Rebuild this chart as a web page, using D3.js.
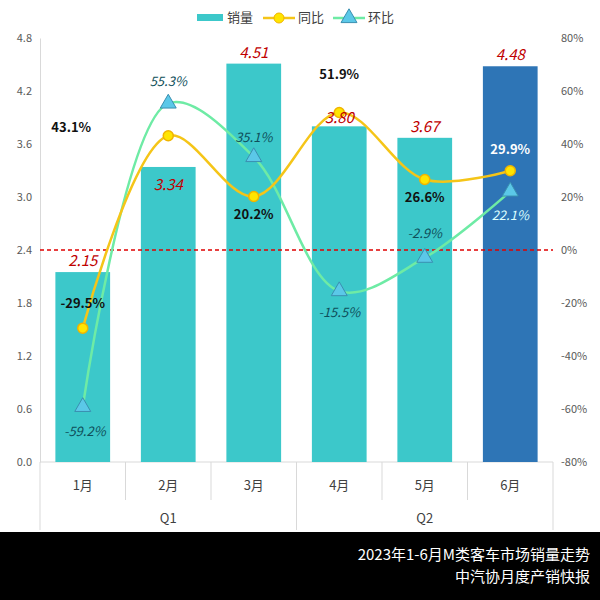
<!DOCTYPE html><html><head><meta charset="utf-8"><script src="https://cdn.jsdelivr.net/npm/d3@7"></script>
<style>body{margin:0;background:#fff}text{font-family:"Noto Sans CJK SC","Noto Sans",sans-serif}</style></head><body><svg id="c" width="600" height="600"></svg><script>
const months=["1月","2月","3月","4月","5月","6月"];
const sales=[2.15,3.34,4.51,3.80,3.67,4.48];
const yoy=[-29.5,43.1,20.2,51.9,26.6,29.9];
const mom=[-59.2,55.3,35.1,-15.5,-2.9,22.1];
const leftTicks=[0,0.6,1.2,1.8,2.4,3.0,3.6,4.2,4.8];
const rightTicks=[-80,-60,-40,-20,0,20,40,60,80];
const quarters=[{q:"Q1",from:0,to:2},{q:"Q2",from:3,to:5}];
const svg=d3.select("#c");
const L=40,R=553,T=38,B=462;
const x=d3.scaleBand().domain(months).range([L,R]).paddingInner(0.36).paddingOuter(0.18);
const xc=d=>x(d)+x.bandwidth()/2;
const y=d3.scaleLinear().domain([0,4.8]).range([B,T]);
const y2=d3.scaleLinear().domain([-80,80]).range([B,T]);
svg.append("g").attr("transform",`translate(${L},0)`).call(d3.axisLeft(y).tickValues(leftTicks).tickFormat(d3.format(".1f")).tickSize(0).tickPadding(8))
 .call(g=>{g.select(".domain").attr("stroke","#d9d9d9");g.selectAll("text").attr("font-size",11).attr("fill","#595959");});
svg.append("g").attr("transform",`translate(${R},0)`).call(d3.axisRight(y2).tickValues(rightTicks).tickFormat(d=>d+"%").tickSize(0).tickPadding(8))
 .call(g=>{g.select(".domain").remove();g.selectAll("text").attr("font-size",11).attr("fill","#595959");});
svg.append("line").attr("x1",L).attr("x2",R).attr("y1",B).attr("y2",B).attr("stroke","#d9d9d9");
const bw=x.step();
[L,(xc(months[2])+xc(months[3]))/2,R].forEach(v=>svg.append("line").attr("x1",v).attr("x2",v).attr("y1",B).attr("y2",530).attr("stroke","#d9d9d9"));
months.forEach((m,i)=>{ if(i%3) svg.append("line").attr("x1",xc(m)-bw/2).attr("x2",xc(m)-bw/2).attr("y1",B).attr("y2",500).attr("stroke","#d9d9d9");});
svg.selectAll(".ml").data(months).join("text").attr("x",d=>xc(d)).attr("y",490).attr("text-anchor","middle").attr("font-size",13).attr("fill","#404040").text(d=>d);
svg.selectAll(".ql").data(quarters).join("text").attr("x",d=>(xc(months[d.from])+xc(months[d.to]))/2).attr("y",523).attr("text-anchor","middle").attr("font-size",13).attr("fill","#404040").text(d=>d.q);
svg.selectAll(".bar").data(sales).join("rect").attr("x",(d,i)=>x(months[i])).attr("width",x.bandwidth())
 .attr("y",d=>y(d)).attr("height",d=>B-y(d)).attr("fill",(d,i)=>i==5?"#2E75B6":"#3CC8CA");
svg.append("line").attr("x1",L).attr("x2",R).attr("y1",y2(0)).attr("y2",y2(0)).attr("stroke","#e00000").attr("stroke-dasharray","4,3").attr("stroke-width",1.3);
const curve=d3.line().x((d,i)=>xc(months[i])).y(d=>y2(d)).curve(d3.curveCatmullRom.alpha(0.5));
svg.append("path").attr("d",curve(mom)).attr("fill","none").attr("stroke","#6EEBA5").attr("stroke-width",2.5);
svg.append("path").attr("d",curve(yoy)).attr("fill","none").attr("stroke","#F5C518").attr("stroke-width",2.5);
const tri=d3.symbol().type(d3.symbolTriangle).size(110);
svg.selectAll(".tm").data(mom).join("path").attr("d",tri).attr("transform",(d,i)=>`translate(${xc(months[i])},${y2(d)})`).attr("fill","#5BC8E8").attr("stroke","#3a8fb0");
svg.selectAll(".cm").data(yoy).join("circle").attr("cx",(d,i)=>xc(months[i])).attr("cy",d=>y2(d)).attr("r",5).attr("fill","#FFE500").attr("stroke","#F0B400").attr("stroke-width",1.5);
const salesOff=[-6,23,-6,-3,-6,-6];
svg.selectAll(".sl").data(sales).join("text").attr("x",(d,i)=>xc(months[i])).attr("y",(d,i)=>y(d)+salesOff[i]).attr("text-anchor","middle").attr("font-size",15).attr("font-style","italic").attr("fill","#C00000").text(d=>d.toFixed(2));
const yoyOff=[[0,-20],[-97,-4],[0,23],[0,-33],[0,22],[0,-17]];
svg.selectAll(".yl").data(yoy).join("text").attr("x",(d,i)=>xc(months[i])+yoyOff[i][0]).attr("y",(d,i)=>y2(d)+yoyOff[i][1]).attr("text-anchor","middle").attr("font-size",13).attr("font-weight","bold").attr("fill",(d,i)=>i==5?"#fff":"#111").text(d=>d.toFixed(1)+"%");
const momOff=[[2,29],[0,-17],[0,-15],[0,26],[0,-20],[0,29]];
svg.selectAll(".ol").data(mom).join("text").attr("x",(d,i)=>xc(months[i])+momOff[i][0]).attr("y",(d,i)=>y2(d)+momOff[i][1]).attr("text-anchor","middle").attr("font-size",13).attr("font-style","italic").attr("fill",(d,i)=>i==5?"#dff":"#0f4f5a").text(d=>d.toFixed(1)+"%");
const lg=svg.append("g");
lg.append("rect").attr("x",197).attr("y",14).attr("width",26).attr("height",7).attr("fill","#3CC8CA");
lg.append("text").attr("x",227).attr("y",22).attr("font-size",13).attr("fill","#404040").text("销量");
lg.append("line").attr("x1",263).attr("x2",295).attr("y1",18).attr("y2",18).attr("stroke","#F5C518").attr("stroke-width",2.5);
lg.append("circle").attr("cx",279).attr("cy",18).attr("r",5).attr("fill","#FFE500").attr("stroke","#F0B400");
lg.append("text").attr("x",298).attr("y",22).attr("font-size",13).attr("fill","#404040").text("同比");
lg.append("line").attr("x1",333).attr("x2",365).attr("y1",18).attr("y2",18).attr("stroke","#6EEBA5").attr("stroke-width",2.5);
lg.append("path").attr("d",tri).attr("transform","translate(349,18)").attr("fill","#5BC8E8").attr("stroke","#3a8fb0");
lg.append("text").attr("x",368).attr("y",22).attr("font-size",13).attr("fill","#404040").text("环比");
svg.append("rect").attr("x",0).attr("y",532).attr("width",600).attr("height",68).attr("fill","#000");
svg.append("text").attr("x",590).attr("y",560).attr("text-anchor","end").attr("font-size",15).attr("fill","#fff").text("2023年1-6月M类客车市场销量走势");
svg.append("text").attr("x",590).attr("y",582).attr("text-anchor","end").attr("font-size",15).attr("fill","#fff").text("中汽协月度产销快报");
</script></body></html>
